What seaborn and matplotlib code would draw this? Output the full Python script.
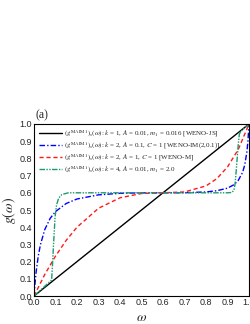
import numpy as np
import matplotlib
matplotlib.use("Agg")
import matplotlib.pyplot as plt
import seaborn as sns

# ============ DATA ============
omega_js = [0.0, 1.0]
g_js = [0.0, 1.0]

omega_im = [0.0, 0.005, 0.01, 0.02, 0.03, 0.05, 0.075, 0.1, 0.15, 0.2, 0.3, 0.4,
            0.5, 0.6, 0.7, 0.8, 0.85, 0.9, 0.93, 0.95, 0.97, 0.98, 0.99, 0.995, 1.0]
g_im = [0.0, 0.078, 0.141, 0.234, 0.299, 0.386, 0.451, 0.491, 0.538, 0.564, 0.588, 0.597,
        0.5996, 0.6, 0.6005, 0.605, 0.612, 0.627, 0.647, 0.672, 0.718, 0.761, 0.836, 0.90, 1.0]

omega_m = [0.0, 0.05, 0.1, 0.15, 0.2, 0.3, 0.4, 0.5, 0.6, 0.7, 0.8, 0.85, 0.9, 0.95, 1.0]
g_m = [0.0, 0.125, 0.232, 0.324, 0.4, 0.51, 0.571, 0.596, 0.6, 0.605, 0.64, 0.682, 0.75, 0.852, 1.0]

omega_maim = [0.0, 0.04, 0.082, 0.086, 0.09, 0.094, 0.098, 0.105, 0.115, 0.13, 0.16, 0.3,
              0.6, 0.9, 0.92, 0.93, 0.935, 0.94, 0.945, 0.95, 0.955, 0.96, 1.0]
g_maim = [0.0, 0.045, 0.093, 0.18, 0.28, 0.37, 0.46, 0.53, 0.57, 0.59, 0.6, 0.6,
          0.6, 0.6, 0.602, 0.615, 0.65, 0.72, 0.8, 0.88, 0.94, 0.955, 1.0]

labels = [
    r"$(g^{\rm MAIM1})_s(\omega)$: $k$ = 1, $A$ = 0.01, $m_1$ = 0.016 [WENO-JS]",
    r"$(g^{\rm MAIM1})_s(\omega)$: $k$ = 2, $A$ = 0.1, $C$ = 1 [WENO-IM(2,0.1)]",
    r"$(g^{\rm MAIM1})_s(\omega)$: $k$ = 2, $A$ = 1, $C$ = 1 [WENO-M]",
    r"$(g^{\rm MAIM1})_s(\omega)$: $k$ = 4, $A$ = 0.01, $m_1$ = 2.0",
]
xticks = [0.0, 0.1, 0.2, 0.3, 0.4, 0.5, 0.6, 0.7, 0.8, 0.9, 1.0]
yticks = [0.0, 0.1, 0.2, 0.3, 0.4, 0.5, 0.6, 0.7, 0.8, 0.9, 1.0]

# ============ STYLE ============
sns.set_style("white")
plt.rcParams["font.family"] = ["Liberation Serif", "DejaVu Serif"]
plt.rcParams["mathtext.fontset"] = "stix"

fig = plt.figure(figsize=(2.5, 3.24), dpi=100)
ax = fig.add_axes([34 / 250, 28 / 324, 215 / 250, 172 / 324])

sns.lineplot(x=omega_js, y=g_js, ax=ax, color="black", lw=1.0, label=labels[0])
sns.lineplot(x=omega_im, y=g_im, ax=ax, color="#0000ff", lw=1.0,
             linestyle=(0, (4, 1.5, 1, 1.5)), label=labels[1])
sns.lineplot(x=omega_m, y=g_m, ax=ax, color="#ff1a1a", lw=1.0,
             linestyle=(0, (3, 2)), label=labels[2])
sns.lineplot(x=omega_maim, y=g_maim, ax=ax, color="#1e9a6e", lw=1.0,
             linestyle=(0, (4, 1, 1, 1, 1, 1)), label=labels[3])

ax.set_xlim(0, 1)
ax.set_ylim(0, 1)
ax.set_xticks(xticks)
ax.set_yticks(yticks)
ax.set_xticklabels([f"{t:.1f}" for t in xticks], family="Liberation Sans", fontsize=6.5)
ax.set_yticklabels([f"{t:.1f}" for t in yticks], family="Liberation Sans", fontsize=6.5)
ax.tick_params(length=0, pad=1.5)
for sp in ax.spines.values():
    sp.set_color("black")
    sp.set_linewidth(0.8)

ax.set_xlabel(r"$\omega$", fontsize=10, labelpad=3)
ax.set_ylabel(r"$g(\omega)$", fontsize=10, labelpad=1)

leg = ax.legend(loc="upper left", frameon=False, fontsize=5.0, handlelength=3.4,
                handletextpad=0.3, labelspacing=0.15, borderaxespad=0.25)

fig.text(35 / 250, 1 - 118 / 324, "(a)", fontsize=8.5)

fig.savefig("out.png", dpi=100)
